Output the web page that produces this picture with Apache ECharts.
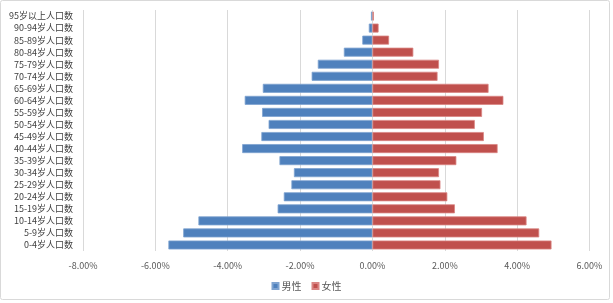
<!DOCTYPE html>
<html>
<head>
<meta charset="utf-8">
<script src="https://cdn.jsdelivr.net/npm/echarts@6/dist/echarts.min.js"></script>
<style>
  html, body { margin: 0; padding: 0; background: #fff; }
  #chart { width: 613px; height: 303px; }
</style>
</head>
<body>
<div id="chart"></div>
<script>
// 年龄组（从下到上）
const ageGroups = [
  '0-4岁人口数', '5-9岁人口数', '10-14岁人口数', '15-19岁人口数', '20-24岁人口数',
  '25-29岁人口数', '30-34岁人口数', '35-39岁人口数', '40-44岁人口数', '45-49岁人口数',
  '50-54岁人口数', '55-59岁人口数', '60-64岁人口数', '65-69岁人口数', '70-74岁人口数',
  '75-79岁人口数', '80-84岁人口数', '85-89岁人口数', '90-94岁人口数', '95岁以上人口数'
]
// 男性占比（%，负值画在左边）
const maleShare = [
  -5.64, -5.23, -4.81, -2.62, -2.45, -2.24, -2.17, -2.57, -3.60, -3.07,
  -2.87, -3.05, -3.53, -3.03, -1.68, -1.51, -0.79, -0.28, -0.10, -0.04
]
// 女性占比（%）
const femaleShare = [
  4.95, 4.61, 4.26, 2.28, 2.07, 1.88, 1.84, 2.32, 3.46, 3.08,
  2.83, 3.03, 3.62, 3.21, 1.80, 1.84, 1.13, 0.46, 0.17, 0.04
]

const textColor = '#595959'
const font = '"Noto Sans CJK SC", "Microsoft YaHei", sans-serif'

const myChart = echarts.init(document.getElementById('chart'))
const option = {
  animation: false,
  textStyle: { fontFamily: font },
  graphic: [
    {
      type: 'rect',
      shape: { x: 0.5, y: 0.5, width: 609, height: 299, r: 2 },
      style: { fill: 'none', stroke: '#d9d9d9', lineWidth: 1 },
      silent: true
    }
  ],
  legend: {
    data: ['男性', '女性'],
    bottom: 7,
    left: 'center',
    itemWidth: 6,
    itemHeight: 6,
    itemGap: 10,
    icon: 'rect',
    textStyle: { color: textColor, fontSize: 10, fontFamily: font, padding: [0, 0, 0, -2] }
  },
  grid: {
    left: 83,
    right: 23.5,
    top: 10,
    bottom: 52
  },
  xAxis: {
    type: 'value',
    min: -8,
    max: 6,
    interval: 2,
    axisLine: { show: false },
    axisTick: { show: false },
    axisLabel: {
      color: textColor,
      fontSize: 9,
      margin: 10,
      formatter: (v) => v.toFixed(2) + '%'
    },
    splitLine: { lineStyle: { color: '#d9d9d9', width: 1 } }
  },
  yAxis: {
    type: 'category',
    data: ageGroups,
    axisLine: { show: false },
    axisTick: { show: false },
    axisLabel: { color: '#404040', fontSize: 9, margin: 10, interval: 0 },
    splitLine: { show: false }
  },
  series: [
    {
      name: '男性',
      type: 'bar',
      stack: 'pop',
      barWidth: 9,
      data: maleShare,
      itemStyle: { color: '#4f81bd', borderColor: '#7fa3d0', borderWidth: 0.8 }
    },
    {
      name: '女性',
      type: 'bar',
      stack: 'pop',
      barWidth: 9,
      data: femaleShare,
      itemStyle: { color: '#c0504d', borderColor: '#d98583', borderWidth: 0.8 }
    }
  ]
}
myChart.setOption(option)
</script>
</body>
</html>
